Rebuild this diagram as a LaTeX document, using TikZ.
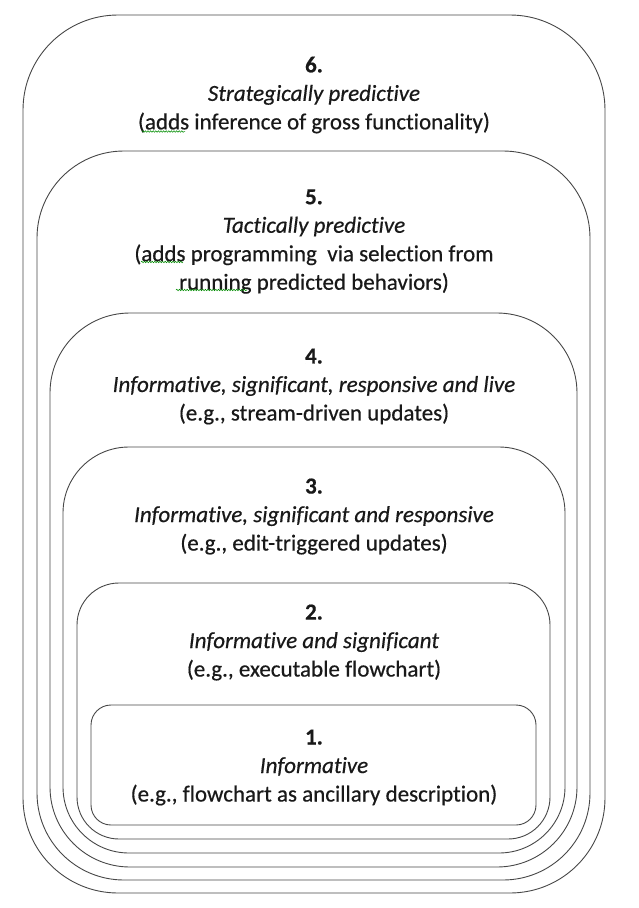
\documentclass[tikz,border=0pt]{standalone}
\usepackage{fontspec}
\setmainfont{Carlito}[FakeBold=0.5, Ligatures=NoCommon]
\usetikzlibrary{decorations.pathmorphing}
\begin{document}
\begin{tikzpicture}[x=1pt,y=-1pt,
  layer/.style={draw=black!72, line width=0.9pt},
  label/.style={align=center, font=\fontsize{23}{28.5}\selectfont, inner sep=0pt, text=black!90},
  spell/.style={draw=green!55!black, line width=0.5pt, decorate, decoration={snake, amplitude=0.8pt, segment length=2.6pt}}
]
\useasboundingbox (0,0) rectangle (638,908);
% boxes
\draw[layer, rounded corners=95] (23,15) rectangle (605,893);
\draw[layer, rounded corners=87] (37,151) rectangle (590,880);
\draw[layer, rounded corners=80] (50,313) rectangle (577,867);
\draw[layer, rounded corners=66] (63,447) rectangle (565,853);
\draw[layer, rounded corners=42] (77,583) rectangle (550,839);
\draw[layer, rounded corners=20] (91,705) rectangle (536,825);
% labels
\node[label] (t6) at (314,95) {\textbf{6.}\\\textit{Strategically predictive}\\(adds inference of gross functionality)};
\node[label] (t5) at (314,241.5) {\textbf{5.}\\\textit{Tactically predictive}\\(adds programming\ \ via selection from\\running predicted behaviors)};
\node[label] (t4) at (314,386.5) {\textbf{4.}\\\textit{Informative, significant, responsive and live}\\(e.g., stream-driven updates)};
\node[label] (t3) at (314,516.5) {\textbf{3.}\\\textit{Informative, significant and responsive}\\(e.g., edit-triggered updates)};
\node[label] (t2) at (314,642.5) {\textbf{2.}\\\textit{Informative and significant}\\(e.g., executable flowchart)};
\node[label] (t1) at (314,767.5) {\textbf{1.}\\\textit{Informative}\\(e.g., flowchart as ancillary description)};
% spell-check underlines
\draw[spell] (142,131.5) -- (185,131.5);
\draw[spell] (141,262) -- (183,262);
\draw[spell] (176,290) -- (247,290);
\end{tikzpicture}
\end{document}
